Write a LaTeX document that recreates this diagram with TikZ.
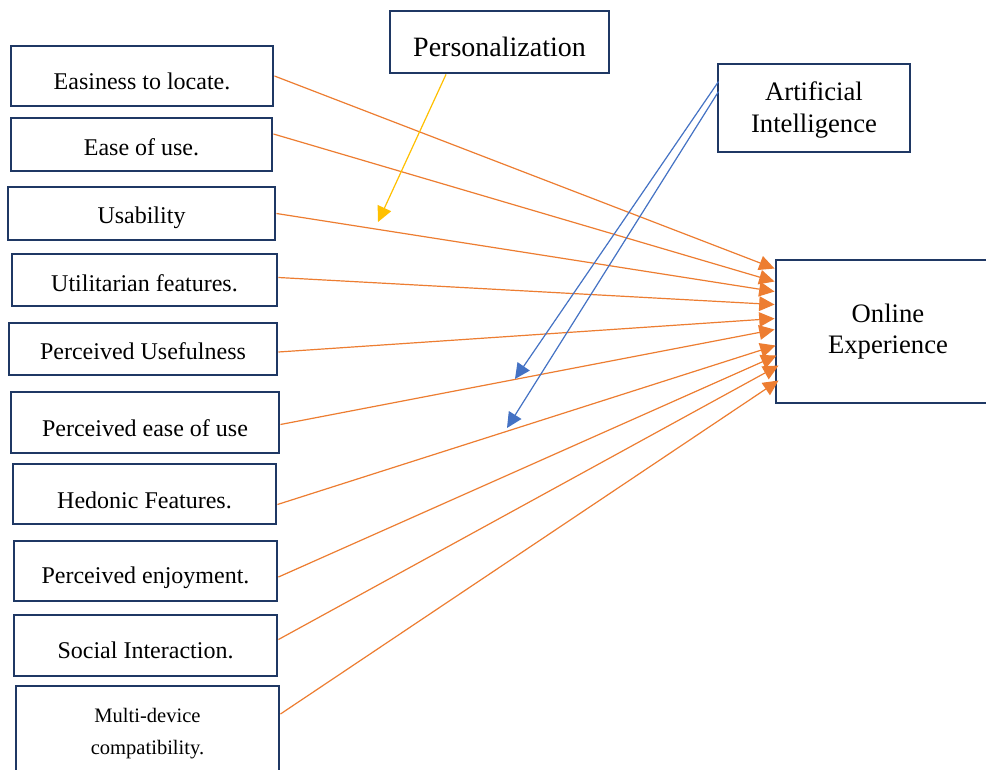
\documentclass[tikz,border=0pt]{standalone}
\usepackage{fontspec}
\setmainfont{Liberation Serif}
\usetikzlibrary{arrows.meta,calc}
\definecolor{navy}{HTML}{1F3864}
\definecolor{orng}{HTML}{ED7D31}
\definecolor{blu}{HTML}{4472C4}
\definecolor{yel}{HTML}{FFC000}
\newcommand{\tdown}[2]{\raisebox{-#1}[\height][\depth]{#2}}
\begin{document}
\begin{tikzpicture}[x=0.75pt,y=-0.75pt,
  box/.style={draw=navy, line width=2.2pt, fill=white, inner sep=0pt, align=center,
    font=\fontsize{18}{22}\selectfont},
  oarr/.style={draw=orng, line width=0.9pt, -{Triangle[length=11.5pt,width=11pt]}},
  barr/.style={draw=blu, line width=0.9pt, -{Triangle[length=11.5pt,width=11pt]}},
  yarr/.style={draw=yel, line width=0.9pt, -{Triangle[length=11.5pt,width=11pt]}}]
\useasboundingbox (0,0) rectangle (986,770);
\fill[white] (0,0) rectangle (986,770);

% left boxes
\node[box, minimum width=196.5pt,  minimum height=45pt]    (b1) at (142,76)    {\tdown{4.3pt}{Easiness to locate.}};
\node[box, minimum width=195.75pt, minimum height=39.75pt] (b2) at (141.5,144.5) {\tdown{1.9pt}{Ease of use.}};
\node[box, minimum width=200.25pt, minimum height=39.75pt] (b3) at (141.5,213.5) {\tdown{3.2pt}{Usability}};
\node[box, minimum width=198.75pt, minimum height=39pt]    (b4) at (144.5,280)  {\tdown{2.25pt}{Utilitarian features.}};
\node[box, minimum width=201pt,    minimum height=39pt]    (b5) at (143,349)    {\tdown{2pt}{Perceived Usefulness}};
\node[box, minimum width=201pt,    minimum height=45.75pt] (b6) at (145,422.5)  {\tdown{4pt}{Perceived ease of use}};
\node[box, minimum width=197.25pt, minimum height=45pt]    (b7) at (144.5,494)  {\tdown{4.5pt}{Hedonic Features.}};
\node[box, minimum width=197.25pt, minimum height=45pt]    (b8) at (145.5,571)  {\tdown{5.1pt}{Perceived enjoyment.}};
\node[box, minimum width=197.25pt, minimum height=45.75pt] (b9) at (145.5,645.5) {\tdown{3.75pt}{Social Interaction.}};
\node[box, minimum width=197.25pt, minimum height=72pt, font=\fontsize{15.4}{24}\selectfont]
  (b10) at (147.5,734) {Multi-device\\compatibility.};

% top and right boxes
\node[box, minimum width=164.25pt, minimum height=46.5pt, font=\fontsize{21}{25}\selectfont]
  (pers) at (499.5,42) {\tdown{4pt}{Personalization}};
\node[box, minimum width=144pt, minimum height=66pt, font=\fontsize{20}{24}\selectfont]
  (ai) at (814,108) {\tdown{1.6pt}{\begin{tabular}{@{}c@{}}Artificial\\Intelligence\end{tabular}}};
\node[box, minimum width=168pt, minimum height=107.25pt, font=\fontsize{20}{23.8}\selectfont]
  (oe) at (888,331.5) {Online\\Experience};

% free ends
\coordinate (yend) at (378,222);
\coordinate (bend1) at (515,379);
\coordinate (bend2) at (507,428);

% orange arrows
\draw[oarr] (b1.east) -- ($(oe.north west)+(0,10)$);
\draw[oarr] ($(b2.east)+(0,-10.5)$) -- ($(oe.north west)+(0,23)$);
\draw[oarr] (b3.east) -- ($(oe.north west)+(0,33)$);
\draw[oarr] ($(b4.east)+(0,-2.5)$) -- ($(oe.north west)+(0,46)$);
\draw[oarr] ($(b5.east)+(0,3)$) -- ($(oe.north west)+(0,60)$);
\draw[oarr] ($(b6.east)+(0,2)$) -- ($(oe.north west)+(0,71)$);
\draw[oarr] ($(b7.east)+(0,10.5)$) -- ($(oe.north west)+(1,87)$);
\draw[oarr] ($(b8.east)+(0,6)$) -- ($(oe.north west)+(2,97)$);
\draw[oarr] ($(b9.east)+(0,-6)$) -- ($(oe.north west)+(4,107)$);
\draw[oarr] ($(b10.east)+(0,-20)$) -- ($(oe.north west)+(4,122)$);

% yellow arrow
\draw[yarr] ($(pers.south)+(-53.5,0)$) -- (yend);

% blue arrows
\draw[barr] ($(ai.north west)+(2,19)$) -- (bend1);
\draw[barr] ($(ai.north west)+(2,29)$) -- (bend2);
\end{tikzpicture}
\end{document}
